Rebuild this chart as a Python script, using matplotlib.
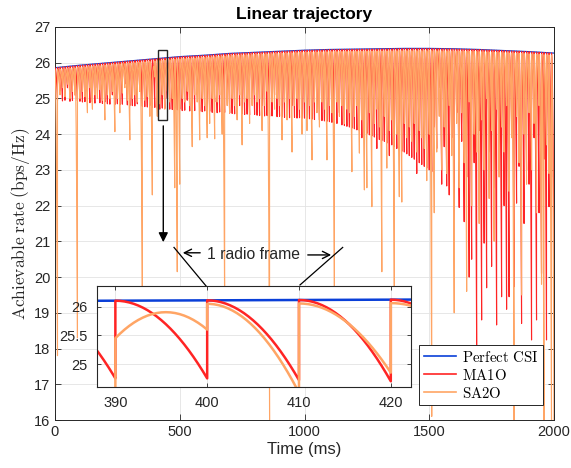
import numpy as np
import matplotlib
matplotlib.use('Agg')
import matplotlib.pyplot as plt
from matplotlib.patches import Rectangle

plt.rcParams['font.family'] = ['Liberation Sans', 'DejaVu Sans']
plt.rcParams['mathtext.fontset'] = 'cm'

# ---------------- data ----------------
FRAME_MS = 10
perfect_t = [0, 100, 200, 300, 400, 500, 600, 700, 800, 900, 1000,
             1100, 1200, 1300, 1400, 1500, 1600, 1700, 1800, 1900, 2000]
perfect_rate = [25.86, 25.93, 25.99, 26.05, 26.11, 26.17, 26.21, 26.26, 26.29, 26.32, 26.35,
                26.37, 26.38, 26.39, 26.40, 26.40, 26.39, 26.37, 26.34, 26.31, 26.27]

# rate reached at the end of each 10 ms radio frame (200 frames)
ma1o_frame_min = [
    24.95, 25.20, 24.93, 24.95, 25.30, 24.92, 24.94, 25.10, 24.93, 24.92,
    24.90, 24.91, 25.20, 24.88, 24.90, 24.87, 25.30, 24.88, 24.86, 24.90,
    24.85, 24.84, 25.10, 24.83, 24.85, 24.82, 24.84, 25.40, 24.82, 24.80,
    24.80, 24.79, 24.85, 25.20, 24.78, 24.77, 24.76, 24.80, 24.75, 24.75,
    24.72, 24.70, 24.73, 24.72, 25.00, 24.70, 24.69, 24.72, 24.68, 24.70,
    24.66, 24.67, 24.95, 24.65, 24.64, 24.66, 25.10, 24.64, 24.63, 24.65,
    24.62, 24.64, 24.61, 24.90, 24.60, 24.62, 24.60, 24.61, 25.20, 24.59,
    24.58, 24.57, 24.56, 24.80, 24.57, 24.55, 24.56, 24.54, 25.00, 24.55,
    24.53, 24.52, 24.80, 24.51, 24.52, 24.50, 24.51, 25.10, 24.49, 24.50,
    24.48, 24.47, 24.49, 24.46, 24.80, 24.47, 24.45, 24.46, 24.44, 24.45,
    24.44, 24.43, 24.42, 24.41, 24.70, 24.40, 24.38, 24.37, 24.36, 24.35,
    24.33, 24.31, 24.30, 24.60, 24.26, 24.24, 24.22, 24.20, 24.17, 24.15,
    24.12, 24.10, 23.90, 24.05, 24.02, 23.98, 23.95, 23.92, 23.60, 23.85,
    23.82, 23.80, 23.75, 23.40, 23.70, 23.65, 23.60, 23.55, 23.52, 23.50,
    23.45, 23.40, 23.35, 23.30, 22.90, 23.20, 23.15, 23.10, 23.05, 23.00,
    22.95, 24.20, 23.60, 25.30, 22.60, 23.65, 22.55, 22.30, 23.90, 21.00,
    24.60, 21.95, 23.80, 21.55, 22.80, 20.00, 20.50, 23.20, 17.96, 24.10,
    18.80, 20.95, 19.70, 23.50, 20.30, 22.50, 18.66, 23.10, 19.45, 22.00,
    19.10, 19.45, 24.30, 19.73, 22.07, 23.10, 18.70, 21.50, 23.00, 22.60,
    18.24, 23.90, 18.80, 21.80, 20.10, 23.30, 18.24, 21.97, 22.80, 20.50,
]
sa2o_frame_min = [
    17.80, 25.10, 25.30, 25.05, 25.40, 25.00, 25.20, 25.10, 18.30, 25.00,
    25.20, 25.05, 24.60, 25.30, 24.70, 25.10, 25.00, 25.25, 24.95, 24.40,
    25.10, 25.00, 25.20, 24.07, 25.00, 24.60, 25.15, 25.30, 24.95, 23.84,
    25.00, 25.10, 24.90, 25.20, 19.50, 24.95, 25.05, 24.50, 22.30, 25.60,
    24.50, 24.85, 25.10, 24.70, 25.20, 24.90, 25.00, 22.50, 20.15, 22.60,
    25.00, 24.90, 25.20, 24.80, 23.65, 25.10, 24.90, 23.84, 25.00, 24.80,
    23.90, 24.30, 25.00, 23.87, 24.90, 25.10, 24.00, 19.00, 24.80, 24.60,
    25.00, 24.80, 24.40, 25.10, 23.70, 24.90, 25.00, 24.30, 24.80, 25.10,
    24.90, 25.00, 24.10, 24.80, 25.20, 16.00, 24.90, 24.70, 25.00, 24.80,
    23.84, 24.90, 24.40, 25.00, 23.50, 24.80, 25.00, 24.70, 24.00, 24.90,
    24.10, 24.80, 23.28, 24.90, 24.60, 24.20, 24.90, 24.70, 23.28, 24.80,
    24.60, 19.00, 24.90, 24.50, 24.80, 24.30, 24.70, 24.60, 22.95, 24.50,
    24.80, 23.47, 24.40, 22.44, 22.50, 24.60, 21.97, 24.30, 24.70, 24.20,
    20.15, 24.50, 23.05, 24.10, 24.40, 19.30, 24.00, 22.25, 22.10, 24.30,
    23.90, 24.20, 23.80, 24.30, 23.50, 24.10, 23.90, 23.60, 22.70, 24.00,
    16.10, 21.80, 23.50, 24.50, 23.00, 24.20, 22.90, 24.80, 23.40, 19.00,
    24.30, 22.50, 24.60, 23.20, 19.60, 24.90, 22.00, 24.00, 23.50, 21.50,
    24.40, 23.00, 25.00, 22.20, 24.10, 21.00, 24.70, 22.80, 24.20, 23.50,
    24.80, 22.40, 23.90, 16.00, 24.50, 23.20, 19.50, 24.00, 22.60, 24.60,
    23.00, 24.30, 21.80, 24.80, 19.80, 16.00, 23.70, 22.90, 16.00, 16.00,
]
sa2o_top_gap = 0.06
# frames whose SA2O curve is an arc: (start, middle, end)
sa2o_arc_frames = {39: (25.45, 25.90, 25.60)}

colors = {'Perfect CSI': '#0a3fd8', 'MA1O': '#ff2424', 'SA2O': '#ffa565'}


def frame_curve(frame_min, top_gap, arcs):
    s = np.linspace(0, 1, 41)
    ts, vs = [], []
    for k, vmin in enumerate(frame_min):
        t0 = k * FRAME_MS
        t = t0 + s * FRAME_MS
        if k in arcs:
            a, m, e = arcs[k]
            c = 2 * (a + e - 2 * m)
            b = e - a - c
            v = a + b * s + c * s ** 2
        else:
            top = np.interp(t0, perfect_t, perfect_rate) - top_gap
            v = top - (top - vmin) * s ** 2
        ts.append(t)
        vs.append(v)
    return np.concatenate(ts), np.concatenate(vs)


t_ma, v_ma = frame_curve(ma1o_frame_min, 0.0, {})
t_sa, v_sa = frame_curve(sa2o_frame_min, sa2o_top_gap, sa2o_arc_frames)

W, H = 571, 468
fig = plt.figure(figsize=(W / 100, H / 100), dpi=100)
ax = fig.add_axes([55 / W, 1 - 420 / H, 499 / W, 393 / H])

ax.plot(perfect_t, perfect_rate, color=colors['Perfect CSI'], lw=0.9, label=r'$\mathrm{Perfect\ CSI}$', zorder=2)
ax.plot(t_ma, v_ma, color=colors['MA1O'], lw=0.8, label=r'$\mathrm{MA1O}$', zorder=3)
ax.plot(t_sa, v_sa, color=colors['SA2O'], lw=0.8, label=r'$\mathrm{SA2O}$', zorder=4)

ax.set_xlim(0, 2000)
ax.set_ylim(16, 27)
ax.set_xticks([0, 500, 1000, 1500, 2000])
ax.set_yticks(range(16, 28))
ax.grid(True, color='#e3e3e3', lw=0.6)
ax.set_axisbelow(True)
ax.tick_params(direction='in', top=True, right=True, length=4, labelsize=10.5,
               color='#262626', labelcolor='#262626', width=0.6)
for sp in ax.spines.values():
    sp.set_color('#262626')
    sp.set_linewidth(0.7)
ax.set_title('Linear trajectory', fontsize=12.5, fontweight='bold', pad=6)
ax.set_xlabel('Time (ms)', fontsize=12, color='#262626', labelpad=2)
ax.set_ylabel(r'$\mathrm{Achievable\ rate\ (bps/Hz)}$', fontsize=12.5, color='#262626', labelpad=1)

leg = ax.legend(loc='lower right', bbox_to_anchor=((543 - 55) / 499, (420 - 405) / 393),
                borderaxespad=0, fontsize=10.7,
                frameon=True, fancybox=False, edgecolor='#262626', framealpha=1,
                handlelength=2.2, borderpad=0.3, labelspacing=0.2, handletextpad=0.4)
leg.get_frame().set_linewidth(0.7)
for h in leg.get_lines():
    h.set_linewidth(1.2)

# zoom box and annotations
ax.add_patch(Rectangle((414, 24.40), 33.7, 1.96, fill=False, ec='#262626', lw=1.0, zorder=6))
ax.annotate('', xy=(434, 20.90), xytext=(434, 24.31),
            arrowprops=dict(arrowstyle='-|>', color='black', lw=1.0, mutation_scale=14), zorder=7)
ax.plot([477, 608], [20.83, 19.73], color='black', lw=0.9, zorder=7)
ax.plot([982, 1153], [19.78, 20.83], color='black', lw=0.9, zorder=7)
ax.annotate('', xy=(501, 20.68), xytext=(593, 20.68),
            arrowprops=dict(arrowstyle='->', color='black', lw=1.0, mutation_scale=13), zorder=7)
ax.annotate('', xy=(1118, 20.62), xytext=(1002, 20.62),
            arrowprops=dict(arrowstyle='->', color='black', lw=1.0, mutation_scale=13), zorder=7)
ax.text(796, 20.62, '1 radio frame', fontsize=11.3, ha='center', va='center', color='#262626', zorder=7)

# inset
ins = fig.add_axes([97 / W, 1 - 387 / H, 314 / W, 101 / H])
ins.plot(perfect_t, perfect_rate, color=colors['Perfect CSI'], lw=1.8)
ins.plot(t_ma, v_ma, color=colors['MA1O'], lw=1.8)
ins.plot(t_sa, v_sa, color=colors['SA2O'], lw=1.8)
ins.set_xlim(388, 422.2)
ins.set_ylim(24.6, 26.36)
ins.set_xticks([390, 400, 410, 420])
ins.set_yticks([25, 25.5, 26])
ins.set_yticklabels(['25', '25.5', '26'])
ins.grid(True, color='#e3e3e3', lw=0.6)
ins.set_axisbelow(True)
ins.tick_params(direction='in', top=True, right=True, length=3, labelsize=10.5, pad=6.5,
                color='#262626', labelcolor='#262626', width=0.6)
for sp in ins.spines.values():
    sp.set_color('#262626')
    sp.set_linewidth(0.8)

fig.savefig('out.png', dpi=100)
